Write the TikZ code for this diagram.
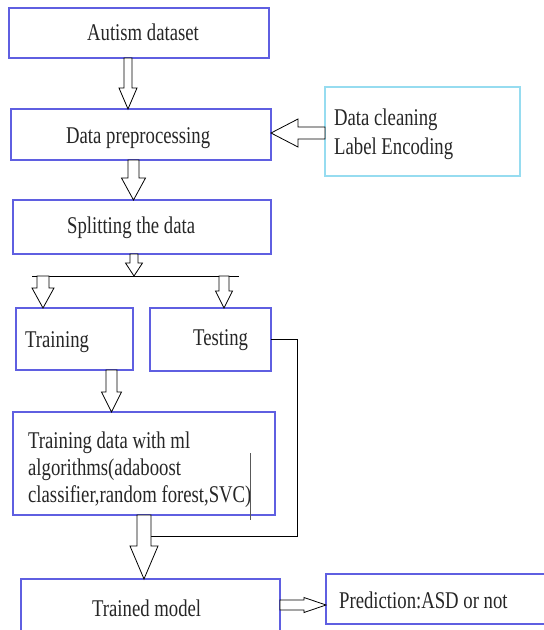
\documentclass[tikz,border=0pt]{standalone}
\usepackage{fontspec}
\setmainfont{Liberation Serif}
\usetikzlibrary{calc}

\definecolor{boxblue}{RGB}{95,95,225}
\definecolor{boxcyan}{RGB}{150,220,240}

\tikzset{
	box/.style={draw=boxblue,line width=1.3pt,inner sep=0,outer sep=0},
	sidebox/.style={draw=boxcyan,line width=1.3pt,inner sep=0,outer sep=0},
	txt/.style={inner sep=0,anchor=base west,xscale=0.78,text=black!85,font=\fontsize{24}{29}\selectfont},
	blockarrow/.style={draw=black,fill=white,line width=0.8pt},
	plainline/.style={draw=black,line width=1pt}
}

% x, from, to, half shaft, half head, head length
\newcommand{\vblock}[6]{%
	\draw[blockarrow] let \p1=(#2), \p2=(#3) in
		(#1pt-#4pt,\y1) -- (#1pt+#4pt,\y1) -- (#1pt+#4pt,\y2+#6pt)
		-- (#1pt+#5pt,\y2+#6pt) -- (#1pt,\y2) -- (#1pt-#5pt,\y2+#6pt)
		-- (#1pt-#4pt,\y2+#6pt) -- cycle;}
% y, from, to, half shaft, half head, head length (signed)
\newcommand{\hblock}[6]{%
	\draw[blockarrow] let \p1=(#2), \p2=(#3) in
		(\x1,-#1pt+#4pt) -- (\x2+#6pt,-#1pt+#4pt) -- (\x2+#6pt,-#1pt+#5pt)
		-- (\x2,-#1pt) -- (\x2+#6pt,-#1pt-#5pt) -- (\x2+#6pt,-#1pt-#4pt)
		-- (\x1,-#1pt-#4pt) -- cycle;}

\begin{document}
\begin{tikzpicture}[x=1pt,y=-1pt]
	\useasboundingbox (0,0) rectangle (544,630);
	\clip (0,0) rectangle (544,630);
	\node[box,minimum width=260,minimum height=50] (auto) at (139,33) {};
	\node[box,minimum width=260,minimum height=51] (prep) at (141,134.5) {};
	\node[sidebox,minimum width=195,minimum height=89] (clean) at (422.5,131.5) {};
	\node[box,minimum width=258,minimum height=54] (split) at (142,227) {};
	\node[box,minimum width=117,minimum height=62] (train) at (74.5,339) {};
	\node[box,minimum width=121,minimum height=63] (test) at (210.5,339.5) {};
	\node[box,minimum width=262,minimum height=103] (algo) at (144,463.5) {};
	\node[box,minimum width=259,minimum height=54] (model) at (150.5,606) {};
	\node[box,minimum width=220,minimum height=50] (pred) at (436,599) {};

	\node[txt] (autoT) at (87,40) {Autism dataset};
	\node[txt] (prepT) at (66,143) {Data preprocessing};
	\node[txt] (cleanT) at (334,125) {\begin{tabular}[t]{@{}l@{}}Data cleaning\\Label Encoding\end{tabular}};
	\node[txt] (splitT) at (67,233) {Splitting the data};
	\node[txt] (trainT) at (25,347) {Training};
	\node[txt] (testT) at (193,345) {Testing};
	\node[txt,font=\fontsize{24}{27}\selectfont] (algoT) at (28,448) {\begin{tabular}[t]{@{}l@{}}Training data with ml\\algorithms(adaboost\\classifier,random forest,SVC)\end{tabular}};
	\node[txt] (modelT) at (92,616) {Trained model};
	\node[txt] (predT) at (339,608) {Prediction:ASD or not};
	\draw[gray!70!black,line width=0.8pt] (250,453) -- (250,520);

	\coordinate (splitL) at (32,276);
	\coordinate (splitR) at (239,276);
	\coordinate (bend) at (297,536);
	\coordinate (join) at (151,536);
	\draw[plainline] (splitL) -- (splitR);
	\draw[plainline] (test.east) -| (bend) -- (join);

	\vblock{128}{auto.south}{prep.north}{4}{9}{21}
	\vblock{133.5}{prep.south}{split.north}{5.5}{12}{22}
	\vblock{134}{split.south}{splitL}{4}{8.5}{13}
	\vblock{43}{splitL}{train.north}{6}{11}{20}
	\vblock{224}{splitR}{test.north}{5}{8.5}{17}
	\vblock{111.5}{train.south}{algo.north}{5.5}{10}{20}
	\vblock{144}{algo.south}{model.north}{7}{14}{33}
	\hblock{133}{clean.west}{prep.east}{6}{14}{27}
	\hblock{605}{model.east}{pred.west}{5}{7.5}{-22}
\end{tikzpicture}
\end{document}
